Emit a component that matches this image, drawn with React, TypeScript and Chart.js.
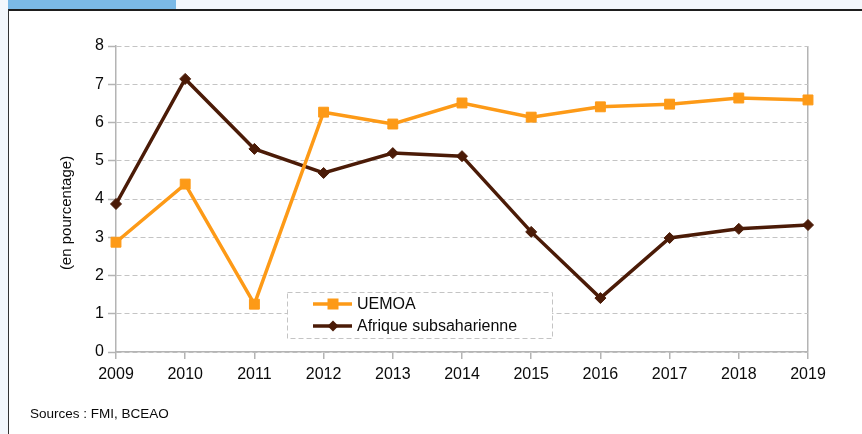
import React, { useEffect, useRef } from "react";
import { Chart, registerables } from "chart.js";

Chart.register(...registerables);

const years = ["2009", "2010", "2011", "2012", "2013", "2014", "2015", "2016", "2017", "2018", "2019"];
const uemoa = [2.87, 4.39, 1.25, 6.27, 5.96, 6.51, 6.14, 6.41, 6.48, 6.64, 6.59];
const afrique = [3.87, 7.14, 5.31, 4.68, 5.2, 5.12, 3.14, 1.41, 2.98, 3.22, 3.32];
const seriesNames = ["UEMOA", "Afrique subsaharienne"];
const yMin = 0;
const yMax = 8;
const yStep = 1;
const axisTitle = "(en pourcentage)";
const sourceText = "Sources : FMI, BCEAO";

const FONT = "'Liberation Sans', Arial, Helvetica, sans-serif";
const ORANGE = "#FD9A17";
const BROWN = "#4B1B07";
const AXIS = "#b4b4b4";
const GRID = "#c4c4c4";

const legendPlugin = {
  id: "boxLegend",
  afterDatasetsDraw(chart: any) {
    const ctx = chart.ctx;
    const bx = 287, by = 292, bw = 265, bh = 46;
    ctx.save();
    ctx.fillStyle = "#ffffff";
    ctx.fillRect(bx, by, bw, bh);
    ctx.strokeStyle = GRID;
    ctx.lineWidth = 1;
    ctx.setLineDash([5, 3]);
    ctx.strokeRect(bx + 0.5, by + 0.5, bw, bh);
    ctx.setLineDash([]);
    const rows = [304, 326];
    chart.data.datasets.forEach((ds: any, i: number) => {
      const y = rows[i];
      ctx.strokeStyle = ds.borderColor;
      ctx.lineWidth = ds.borderWidth;
      ctx.beginPath();
      ctx.moveTo(313, y);
      ctx.lineTo(352, y);
      ctx.stroke();
      ctx.fillStyle = ds.pointBackgroundColor;
      ctx.beginPath();
      if (ds.pointStyle === "rect") {
        ctx.rect(333 - 5.5, y - 5.5, 11, 11);
      } else {
        const r = ds.pointRadius;
        ctx.moveTo(333, y - r);
        ctx.lineTo(333 + r, y);
        ctx.lineTo(333, y + r);
        ctx.lineTo(333 - r, y);
        ctx.closePath();
      }
      ctx.fill();
      ctx.fillStyle = "#0a0a0a";
      ctx.font = `16px ${FONT}`;
      ctx.textBaseline = "middle";
      ctx.textAlign = "left";
      ctx.fillText(ds.label, 357, y + 1);
    });
    ctx.restore();
  },
};

const titlePlugin = {
  id: "yTitle",
  afterDraw(chart: any) {
    const ctx = chart.ctx;
    ctx.save();
    ctx.translate(67, 213);
    ctx.rotate(-Math.PI / 2);
    ctx.fillStyle = "#0a0a0a";
    ctx.font = `15px ${FONT}`;
    ctx.textAlign = "center";
    ctx.textBaseline = "middle";
    ctx.fillText(axisTitle, 0, 0);
    ctx.restore();
  },
};

function ChartCanvas() {
  const ref = useRef<HTMLCanvasElement | null>(null);
  useEffect(() => {
    if (!ref.current) return;
    const lastIdx = years.length - 1;
    const chart = new Chart(ref.current, {
      type: "line",
      data: {
        labels: years,
        datasets: [
          {
            label: seriesNames[0],
            data: uemoa,
            borderColor: ORANGE,
            backgroundColor: ORANGE,
            pointBackgroundColor: ORANGE,
            pointBorderColor: ORANGE,
            borderWidth: 3.5,
            pointStyle: "rect",
            pointRadius: 7,
            pointBorderWidth: 1,
            tension: 0,
            fill: false,
          },
          {
            label: seriesNames[1],
            data: afrique,
            borderColor: BROWN,
            backgroundColor: BROWN,
            pointBackgroundColor: BROWN,
            pointBorderColor: BROWN,
            borderWidth: 3.5,
            pointStyle: "rectRot",
            pointRadius: 5.5,
            pointBorderWidth: 1,
            tension: 0,
            fill: false,
          },
        ],
      },
      options: {
        animation: false,
        responsive: false,
        maintainAspectRatio: false,
        devicePixelRatio: 1,
        layout: { padding: { left: 0, right: 54, top: 46, bottom: 0 } },
        plugins: {
          legend: { display: false },
          tooltip: { enabled: false },
          title: { display: false },
        },
        scales: {
          x: {
            type: "category",
            offset: false,
            grid: {
              display: true,
              drawOnChartArea: true,
              drawTicks: true,
              tickLength: 7,
              color: (c: any) => (c.index === lastIdx ? AXIS : "rgba(0,0,0,0)"),
              tickColor: AXIS,
              lineWidth: 1.5,
              tickWidth: 1.5,
            },
            border: { display: true, color: AXIS, width: 1.5 },
            ticks: {
              color: "#0a0a0a",
              font: { family: FONT, size: 16 },
              padding: 6,
              maxRotation: 0,
              autoSkip: false,
            },
            afterFit: (s: any) => {
              s.height = 82;
            },
          },
          y: {
            min: yMin,
            max: yMax,
            grid: {
              display: true,
              color: GRID,
              lineWidth: 1,
              tickLength: 8,
              tickColor: AXIS,
              tickWidth: 1.5,
            },
            border: { display: true, color: AXIS, width: 1.5, dash: [5, 3] },
            ticks: {
              stepSize: yStep,
              color: "#0a0a0a",
              font: { family: FONT, size: 16 },
              padding: 4,
            },
            afterFit: (s: any) => {
              s.width = 116;
            },
          },
        },
      },
      plugins: [legendPlugin, titlePlugin],
    } as any);
    return () => chart.destroy();
  }, []);
  return (
    <canvas
      ref={ref}
      width={862}
      height={434}
      style={{ position: "absolute", left: 0, top: 0, width: 862, height: 434 }}
    />
  );
}

export default function App() {
  return (
    <div
      style={{
        position: "fixed",
        left: 0,
        top: 0,
        width: 862,
        height: 434,
        background: "#f3f7fc",
        overflow: "hidden",
        fontFamily: FONT,
      }}
    >
      <div style={{ position: "absolute", left: 8, top: 0, width: 168, height: 9, background: "#7bb9e6" }} />
      <div
        style={{
          position: "absolute",
          left: 8,
          top: 9,
          width: 870,
          height: 440,
          background: "#ffffff",
          borderTop: "2px solid #1e1e1e",
          borderLeft: "1.5px solid #333333",
          boxSizing: "border-box",
        }}
      />
      <ChartCanvas />
      <div
        style={{
          position: "absolute",
          left: 30,
          top: 405,
          fontSize: 13.5,
          color: "#0a0a0a",
          whiteSpace: "nowrap",
          lineHeight: "18px",
        }}
      >
        {sourceText}
      </div>
    </div>
  );
}
